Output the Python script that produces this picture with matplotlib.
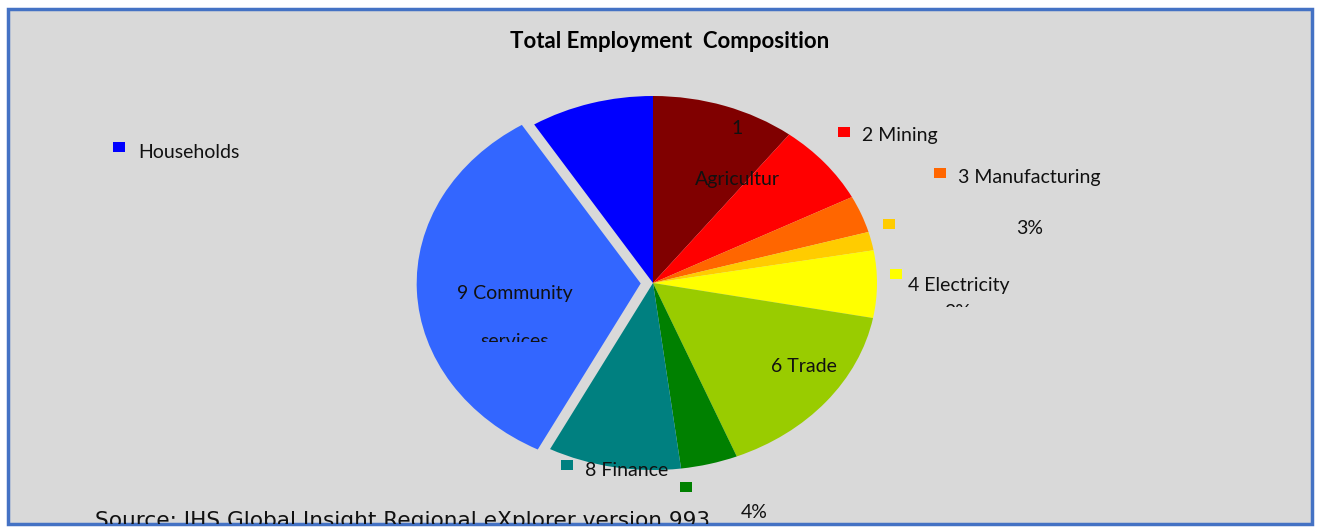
import matplotlib
matplotlib.use("Agg")
import matplotlib.pyplot as plt
from matplotlib.patches import Rectangle
from matplotlib.transforms import Bbox, TransformedBbox

W, H = 1320, 528

# Employment shares (%) by sector
sectors = ["1 Agriculture", "2 Mining", "3 Manufacturing", "4 Electricity",
           "5 Construction", "6 Trade", "7 Transport", "8 Finance",
           "9 Community services", "Households"]
shares = [10.4, 7.0, 3.2, 1.6, 5.8, 15.9, 4.1, 9.6, 33.5, 8.9]
colors = ["#800000", "#FF0000", "#FF6600", "#FFCC00", "#FFFF00",
          "#99CC00", "#008000", "#008080", "#3366FF", "#0000FF"]
explode = [0, 0, 0, 0, 0, 0, 0, 0, 0.055, 0]

plt.rcParams["font.family"] = ["Lato", "DejaVu Sans"]

fig = plt.figure(figsize=(W / 100, H / 100), dpi=100, facecolor="white")


def fx(x):
    return x / W


def fy(y):
    return 1 - y / H


def clip_below(t, y):
    # hide whatever part of a text falls under pixel row y
    t.set_clip_box(TransformedBbox(Bbox([[0, fy(y)], [1, 1]]), fig.transFigure))
    t.set_clip_on(True)


# chart area with blue border
fig.add_artist(Rectangle((fx(8), fy(524)), fx(1304), 515 / H,
                         transform=fig.transFigure, facecolor="#D9D9D9",
                         edgecolor="#4472C4", lw=2.5, zorder=0))

# pie is drawn stretched: wider than tall
cx, cy, rx, ry = 653, 283, 224, 187
m = 1.2
ax = fig.add_axes([fx(cx - rx * m), fy(cy + ry * m), 2 * rx * m / W, 2 * ry * m / H])
ax.pie(shares, colors=colors, startangle=90, counterclock=False,
       explode=explode, radius=1)
ax.set_xlim(-m, m)
ax.set_ylim(-m, m)
ax.set_aspect("auto")
ax.axis("off")

fig.text(fx(670), fy(42), "Total Employment  Composition", ha="center", va="center",
         fontsize=16, fontweight="bold", color="black")


def key(x, y, c):
    fig.add_artist(Rectangle((fx(x - 6), fy(y + 5)), 12 / W, 10 / H,
                             transform=fig.transFigure, facecolor=c,
                             edgecolor="none"))


def label(x, y, s, ha="left", va="center", clip=None):
    t = fig.text(fx(x), fy(y), s, ha=ha, va=va, fontsize=14, color="#111111")
    if clip is not None:
        clip_below(t, clip)
    return t


label(737, 128, "1", ha="center")
label(737, 180, "Agricultur", ha="center")
key(844, 132, colors[1])
label(862, 136, "2 Mining")
key(940, 173, colors[2])
label(958, 178, "3 Manufacturing")
key(889, 224, colors[3])
label(1030, 228, "3%", ha="center")
key(896, 274, colors[4])
label(908, 285, "4 Electricity")
label(958, 318, "2%", ha="center", va="baseline", clip=307)
label(515, 293, "9 Community", ha="center")
label(515, 347, "services", ha="center", va="baseline", clip=342)
label(804, 367, "6 Trade", ha="center")
key(567, 465, colors[7])
label(585, 470, "8 Finance")
key(686, 487, colors[6])
label(754, 512, "4%", ha="center")
key(119, 147, colors[9])
label(138, 152, "Households")

src = fig.text(fx(95), fy(527), "Source: IHS Global Insight Regional eXplorer version 993",
               ha="left", va="baseline", fontsize=15.6, family="DejaVu Sans",
               color="#111111")
clip_below(src, 524)

fig.savefig("out.png", dpi=100, facecolor="white")
